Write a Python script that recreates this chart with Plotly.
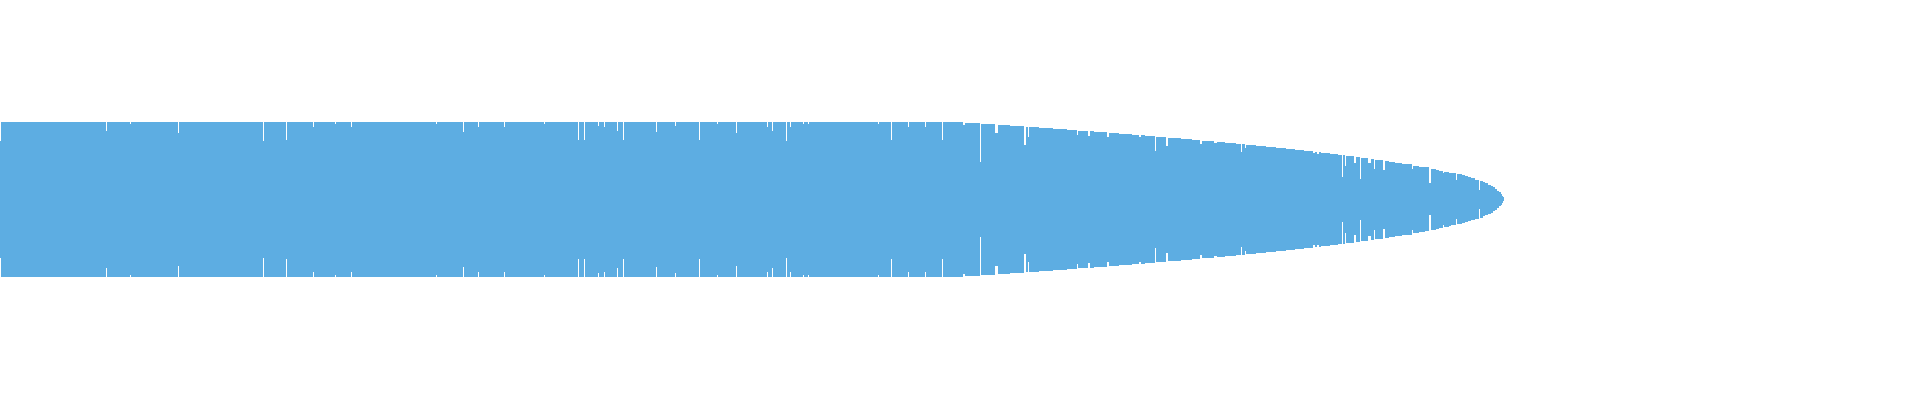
import plotly.graph_objects as go

# ---- data (x in sample units, heights = full bar span) ----
plateau_end = 963
plateau_height = 155

notch_x = [0, 106, 130, 178, 263, 286, 313, 335, 351, 436,
           463, 478, 504, 544, 578, 584, 598, 604, 617, 623,
           656, 675, 699, 717, 736, 767, 772, 786, 790, 803,
           808, 878, 891, 908, 925, 942]
notch_height = [117, 137, 151, 133, 117, 119, 145, 151, 145, 151,
                135, 145, 145, 151, 119, 119, 147, 145, 137, 119,
                135, 147, 119, 151, 133, 145, 137, 117, 145, 151,
                151, 151, 119, 145, 145, 119]

taper_edges = [963, 965, 980, 981, 995, 998, 1010, 1024, 1026, 1028,
               1029, 1039, 1053, 1067, 1077, 1078, 1088, 1090, 1094, 1107,
               1109, 1119, 1132, 1139, 1141, 1145, 1155, 1156, 1166, 1168,
               1181, 1192, 1200, 1202, 1214, 1217, 1225, 1236, 1241, 1242,
               1245, 1246, 1256, 1266, 1276, 1286, 1295, 1304, 1313, 1315,
               1317, 1319, 1321, 1330, 1338, 1342, 1343, 1345, 1346, 1354,
               1356, 1360, 1361, 1368, 1371, 1374, 1375, 1383, 1385, 1389,
               1395, 1402, 1412, 1413, 1419, 1425, 1429, 1431, 1436, 1439,
               1443, 1444, 1449, 1451, 1456, 1457, 1462, 1465, 1468, 1471,
               1475, 1479, 1480, 1483, 1485, 1488, 1491, 1493, 1495, 1497,
               1499, 1501, 1502, 1503, 1504]
taper_heights = [148.5, 153, 75, 151, 133, 148.5, 147, 108.5, 145, 125,
                 144.5, 142.5, 140.5, 138.5, 128.5, 136.5, 126.5, 136.5, 134.5, 124.5,
                 132.5, 130.5, 128.5, 124.5, 128.5, 126.5, 97, 124.5, 107, 122.5,
                 120.5, 118.5, 110.5, 116.5, 113, 114.5, 112.5, 110.5, 95, 110.5,
                 102.5, 108.5, 106.5, 104.5, 102.5, 100.5, 98.5, 96.5, 92, 94.5,
                 90.5, 94.5, 92.5, 90.5, 88.5, 45, 88.5, 66.5, 86.5, 72,
                 84.5, 40.5, 82.5, 72.5, 80.5, 60.5, 78.5, 58.5, 76.5, 74.5,
                 72.5, 71, 60.5, 67, 65, 64, 32, 61, 59, 57,
                 52, 55, 53, 52, 38.5, 50, 48, 46, 44, 42,
                 39, 18.5, 36.5, 34, 32, 29, 26.5, 24, 20.5, 17,
                 14, 10.5, 7, 4]

assert len(notch_x) == len(notch_height)
assert len(taper_edges) == len(taper_heights) + 1

# ---- build bins (left, right, height) ----
lefts, rights, heights = [], [], []
cursor = 0
for nx, nh in zip(notch_x, notch_height):
    if nx > cursor:
        lefts.append(cursor); rights.append(nx); heights.append(plateau_height)
    lefts.append(nx); rights.append(nx + 1); heights.append(nh)
    cursor = nx + 1
if plateau_end > cursor:
    lefts.append(cursor); rights.append(plateau_end); heights.append(plateau_height)
for i, h in enumerate(taper_heights):
    lefts.append(taper_edges[i]); rights.append(taper_edges[i + 1]); heights.append(h)

centers = [(a + b) / 2 for a, b in zip(lefts, rights)]
widths = [b - a for a, b in zip(lefts, rights)]
bases = [-h / 2 for h in heights]

fig = go.Figure(go.Bar(
    x=centers, y=heights, base=bases, width=widths,
    marker=dict(color="#5DADE2", line=dict(width=0)),
    hoverinfo="skip", showlegend=False,
))

fig.update_layout(
    width=1920, height=400,
    margin=dict(l=0, r=0, t=0, b=0, pad=0),
    paper_bgcolor="white", plot_bgcolor="white",
    bargap=0, bargroupgap=0,
    xaxis=dict(range=[0, 1920], visible=False, showgrid=False, zeroline=False),
    yaxis=dict(range=[-200.75, 199.25], visible=False, showgrid=False, zeroline=False),
)

fig.write_html(
    "out.html",
    config={"displayModeBar": False},
    post_script="document.body.style.margin='0';document.body.style.overflow='hidden';",
)
